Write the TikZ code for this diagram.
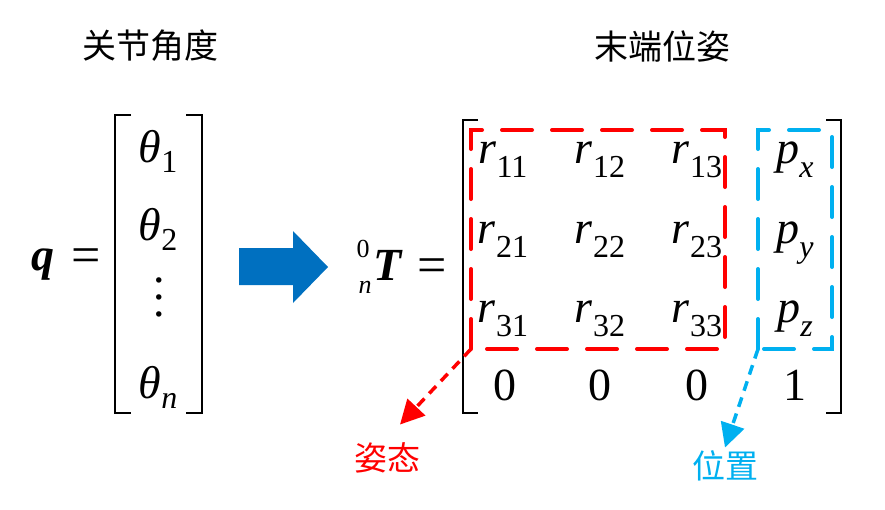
\documentclass[tikz,border=0pt]{standalone}
\usepackage{fontspec}
\setmainfont{Liberation Serif}
\newfontfamily\cjk{Noto Sans CJK SC}
\usetikzlibrary{arrows.meta}
\definecolor{boxblue}{HTML}{00B0F0}
\definecolor{arrblue}{HTML}{0070C0}
\newcommand{\fsz}[1]{\fontsize{#1}{#1}\selectfont}
\newcommand{\elm}[2]{\textit{#1}\raisebox{-14pt}{\fsz{32}#2}}
\newcommand{\thel}[1]{\textit{θ}\raisebox{-10pt}{\fsz{32}#1}}
\begin{document}
\begin{tikzpicture}[x=1pt,y=-1pt,font=\fsz{46},inner sep=0pt,
  brk/.style={line width=2.5pt},
  redbox/.style={draw=red,line width=4pt,dash pattern=on 30pt off 20pt,line cap=round},
  bluebox/.style={draw=boxblue,line width=4pt,dash pattern=on 30pt off 20pt,line cap=round},
  pointer/.style={line width=3.5pt,dash pattern=on 10pt off 7pt,-{Triangle[length=24pt,width=24pt]}},
  title/.style={font=\cjk\fsz{34}}]
\useasboundingbox (0,0) rectangle (885,509);
% titles
\node[title] (t1) at (150,46) {关节角度};
\node[title] (t2) at (662,46) {末端位姿};
% joint vector
\node[anchor=base] (q) at (43,270) {\textbf{\textit{q}}};
\node[anchor=base,font=\fsz{52}] (eq1) at (86,272) {=};
\draw[brk] (131,115)--(115,115)--(115,413)--(131,413) (186,115)--(202,115)--(202,413)--(186,413);
\node[anchor=base] (th1) at (158,162) {\thel{1}};
\node[anchor=base] (th2) at (158,240) {\thel{2}};
\node[anchor=base] (dots) at (159,316) {\baselineskip=17pt\vbox{\hbox{.}\hbox{.}\hbox{.}}};
\node[anchor=base] (thn) at (158,398) {\thel{\textit{n}}};
% big arrow
\fill[arrblue] (239,248)--(293,248)--(293,231)--(328,267)--(293,303)--(293,285)--(239,285)--cycle;
% transform matrix
\node[anchor=base] (T) at (388,280) {\textbf{\textit{T}}};
\node[anchor=base,font=\fsz{26}] (T0) at (363,257) {0};
\node[anchor=base,font=\fsz{26}] (Tn) at (365,293) {\textit{n}};
\node[anchor=base,font=\fsz{52}] (eq2) at (432,282) {=};
\draw[brk] (478,120)--(463,120)--(463,413)--(478,413) (826,120)--(841,120)--(841,413)--(826,413);
\foreach \i/\y in {1/163,2/243,3/322}{
  \foreach \j/\x in {1/503,2/600,3/697}
    \node[anchor=base] (r\i\j) at (\x,\y) {\elm{r}{\i\j}};
}
\node[anchor=base] (px) at (795,163) {\elm{p}{\textit{x}}};
\node[anchor=base] (py) at (795,243) {\elm{p}{\textit{y}}};
\node[anchor=base] (pz) at (795,322) {\elm{p}{\textit{z}}};
\foreach \j/\x in {1/505,2/600,3/697}
  \node[anchor=base] (z\j) at (\x,400) {0};
\node[anchor=base] (one) at (795,400) {1};
% dashed boxes
\coordinate (rc) at (471,349);
\coordinate (bc) at (758,349);
\draw[redbox] (rc)--(471,130)--(725,130)--(725,349)--cycle;
\draw[bluebox] (bc)--(758,130)--(832,130)--(832,349)--cycle;
% labels
\node[font=\cjk\fsz{33},text=red] (zt) at (387,458) {姿态};
\node[font=\cjk\fsz{33},text=boxblue] (wz) at (725,466) {位置};
\draw[pointer,red] (rc) -- ([shift={(13,-18)}]zt.north);
\draw[pointer,boxblue] (bc) -- ([shift={(0,-3)}]wz.north);
\end{tikzpicture}
\end{document}
